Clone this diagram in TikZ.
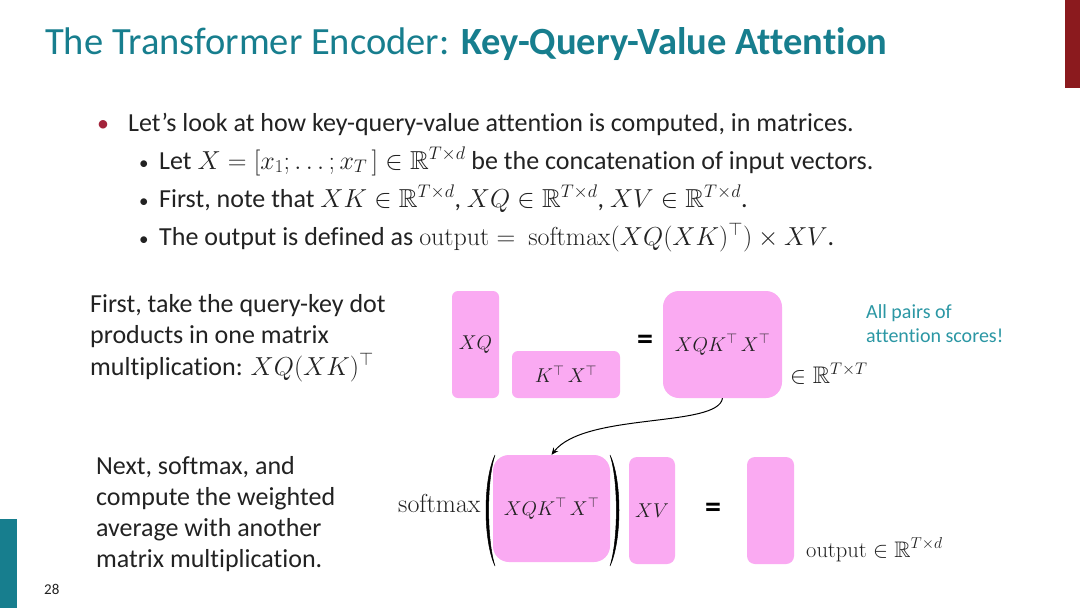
\RequirePackage{fix-cm}
\documentclass[tikz,border=0pt]{standalone}
\usepackage{amssymb}
\DeclareFontFamily{U}{msb}{}
\DeclareFontShape{U}{msb}{m}{n}{<-6>msbm5<6-8>msbm7<8->msbm10}{}
\usepackage[no-math]{fontspec}
\setmainfont{Carlito}[Ligatures=NoCommon]
\usetikzlibrary{arrows.meta}
\definecolor{teal1}{HTML}{177E8E}
\definecolor{teal2}{HTML}{2B97A4}
\definecolor{pinkb}{HTML}{FAAAF2}
\definecolor{darkred}{HTML}{8B1A1E}
\definecolor{bulred}{HTML}{A3243B}
\definecolor{txt}{HTML}{222222}
\tikzset{
  txtn/.style={anchor=base west, inner sep=0pt, text=txt},
  body/.style={txtn, font=\fontsize{26}{30}\selectfont},
  pbox/.style={fill=pinkb, draw=none, rounded corners=6pt, inner sep=0pt, text=txt, font=\fontsize{20}{24}\selectfont},
  bigbox/.style={pbox, rounded corners=16pt},
  eqsign/.style={inner sep=0pt, font=\fontsize{32}{32}\selectfont\bfseries, text=black},
  parenfill/.style={fill=black, draw=black, line width=0.5pt},
  subbul/.style={txtn, font=\fontsize{19}{22}\selectfont},
}
\begin{document}
\begin{tikzpicture}[x=1pt,y=-1pt]
\useasboundingbox (0,0) rectangle (1080,608);
\fill[white] (0,0) rectangle (1080,608);
% side bars
\fill[darkred] (1065,0) rectangle (1080,88);
\fill[teal1] (0,519) rectangle (17,608);
\node[txtn, font=\fontsize{15}{17}\selectfont] (pgnum) at (44,594) {28};
% title
\node[txtn, text=teal1, font=\fontsize{38.5}{42}\selectfont] (title) at (45,54) {The Transformer Encoder: \textbf{Key-Query-Value Attention}};
% bullets
\node[txtn, text=bulred, font=\fontsize{24}{28}\selectfont] (b1) at (97,131) {•};
\node[body] (t1) at (128,131) {Let’s look at how key-query-value attention is computed, in matrices.};
\node[subbul] (b2) at (139,169) {•};
\node[body] (t2) at (159,169) {Let $X=[x_1;\ldots;x_T\,]\in\mathbb{R}^{T\times d}$ be the concatenation of input vectors.};
\node[subbul] (b3) at (139,207) {•};
\node[body] (t3) at (159,207) {First, note that $XK\in\mathbb{R}^{T\times d}$, $XQ\in\mathbb{R}^{T\times d}$, $XV\in\mathbb{R}^{T\times d}$.};
\node[subbul] (b4) at (139,245) {•};
\node[body] (t4) at (159,245) {The output is defined as $\mathrm{output}=\ \mathrm{softmax}(XQ(XK)^{\top})\times XV$.};
% left texts
\node[body] (l1) at (90,312) {First, take the query-key dot};
\node[body] (l2) at (90,343) {products in one matrix};
\node[body] (l3) at (90,375) {multiplication: $XQ(XK)^{\top}$};
\node[body] (m1) at (96,474) {Next, softmax, and};
\node[body] (m2) at (96,505) {compute the weighted};
\node[body] (m3) at (96,536) {average with another};
\node[body] (m4) at (96,567) {matrix multiplication.};
% top row
\node[pbox, minimum width=47pt, minimum height=107pt] (xq) at (475.5,344.5) {$XQ$};
\node[pbox, minimum width=108pt, minimum height=47pt] (ktxt) at (566,374.5) {$K^{\top}\,X^{\top}$};
\node[eqsign] (eq1) at (645,342) {=};
\node[bigbox, minimum width=119pt, minimum height=107pt] (big) at (722.5,344.5) {$XQK^{\top}\,X^{\top}$};
\node[txtn, font=\fontsize{24}{28}\selectfont] (rtt) at (790,383) {$\in\mathbb{R}^{T\times T}$};
\node[txtn, text=teal2, font=\fontsize{20}{23}\selectfont] (ap1) at (866,318) {All pairs of};
\node[txtn, text=teal2, font=\fontsize{20}{23}\selectfont] (ap2) at (866,342) {attention scores!};
% bottom row
\node[txtn, font=\fontsize{26}{30}\selectfont] (smax) at (398,512) {$\mathrm{softmax}$};
\node[bigbox, minimum width=117pt, minimum height=107pt] (sbox) at (551.5,508.5) {$XQK^{\top}\,X^{\top}$};
\fill[parenfill] (495,455) .. controls (483,480) and (483,540) .. (495,566)
  .. controls (486.5,540) and (486.5,480) .. cycle;
\fill[parenfill] (610,455) .. controls (622,480) and (622,540) .. (610,566)
  .. controls (618.5,540) and (618.5,480) .. cycle;
\node[pbox, rounded corners=8pt, minimum width=46pt, minimum height=107pt] (xv) at (652,510.5) {$XV$};
\node[eqsign] (eq2) at (713,510) {=};
\node[pbox, rounded corners=8pt, minimum width=47pt, minimum height=107pt] (out) at (770.5,510.5) {};
\node[txtn, font=\fontsize{22.5}{26}\selectfont] (outl) at (806,557) {$\mathrm{output}\in\mathbb{R}^{T\times d}$};
% arrow
\draw[-{Stealth[length=7pt,width=6pt]}, line width=1pt, black] (big.south) .. controls (718,428) and (585,412) .. (sbox.north);
\end{tikzpicture}
\end{document}
